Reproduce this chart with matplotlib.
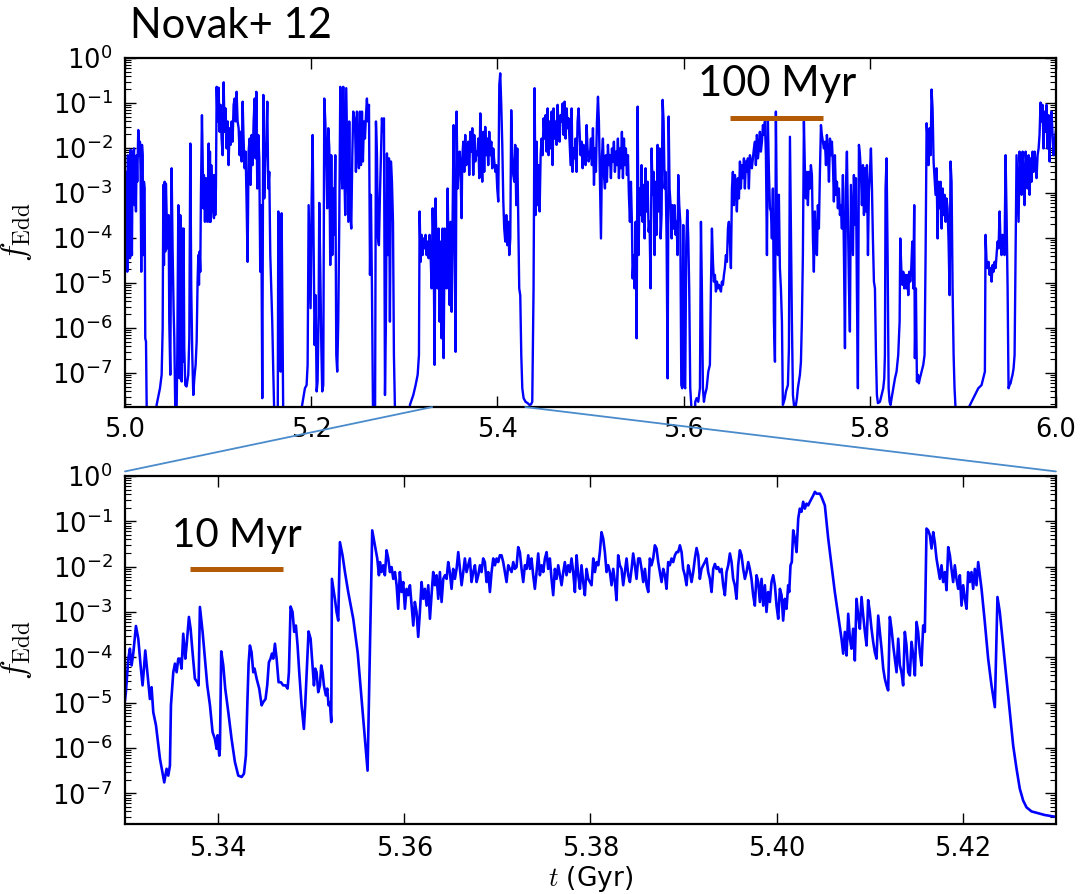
import numpy as np
import matplotlib
matplotlib.use("Agg")
import matplotlib.pyplot as plt
from matplotlib.patches import ConnectionPatch
from matplotlib.ticker import LogLocator, NullFormatter, NullLocator, FormatStrFormatter, FixedLocator

# Eddington ratio history of the central black hole.
# Times are in Myr after t = 5 Gyr, values are log10(f_Edd).
# Values far below the plotted range (quiescent phases) are stored as -9.

# ---- wide window, 5.0 - 6.0 Gyr
wide_t_myr = [
    1.1, 1.8, 2.5, 3.2, 3.9, 4.7, 5.4, 6.1, 6.8, 7.5,
    8.2, 9.0, 9.7, 10.4, 11.1, 11.8, 12.5, 13.2, 14.3, 15.4,
    16.1, 16.8, 17.5, 18.3, 19.0, 19.7, 20.4, 21.1, 21.8, 22.6,
    23.3, 24.7, 30.4, 32.2, 34.0, 37.6, 39.4, 40.5, 41.2, 41.9,
    42.6, 43.3, 44.0, 44.8, 45.8, 46.9, 47.6, 48.7, 49.4, 50.1,
    51.2, 52.3, 53.0, 53.7, 54.8, 55.5, 56.2, 57.3, 58.0, 58.7,
    59.4, 60.1, 60.9, 61.6, 62.3, 63.0, 63.7, 64.8, 66.2, 68.0,
    69.1, 70.2, 71.2, 72.3, 73.4, 74.5, 75.9, 77.0, 78.0, 78.8,
    79.5, 80.2, 80.9, 81.6, 82.7, 83.4, 84.1, 84.8, 85.9, 87.0,
    87.7, 88.4, 89.1, 89.9, 90.6, 91.3, 92.0, 92.7, 93.4, 94.2,
    94.9, 95.6, 96.3, 97.0, 97.7, 98.5, 99.5, 100.6, 101.7, 102.7,
    103.8, 104.9, 106.0, 107.0, 108.1, 109.2, 110.3, 111.3, 112.4, 113.5,
    114.6, 115.6, 116.7, 117.8, 118.9, 119.9, 121.0, 122.1, 123.2, 124.2,
    125.3, 126.4, 127.4, 128.5, 129.6, 130.7, 131.7, 132.8, 133.9, 135.0,
    136.0, 137.1, 138.2, 139.3, 140.3, 141.1, 142.1, 143.2, 144.3, 145.3,
    146.4, 147.5, 148.6, 149.6, 150.7, 151.8, 152.9, 153.9, 155.0, 156.1,
    157.2, 158.2, 159.3, 160.4, 161.5, 162.9, 164.0, 164.7, 165.8, 167.2,
    168.3, 169.3, 170.4, 186.2, 189.7, 193.3, 195.1, 196.2, 197.3, 198.3,
    199.4, 200.5, 201.6, 202.6, 203.7, 204.8, 205.9, 206.9, 208.0, 208.7,
    209.8, 210.9, 211.9, 213.0, 214.1, 215.2, 216.2, 217.3, 218.4, 219.5,
    220.5, 221.6, 222.7, 223.8, 224.8, 225.9, 227.0, 228.0, 229.1, 230.2,
    231.3, 232.3, 233.4, 234.5, 235.6, 236.6, 237.7, 238.8, 239.9, 240.9,
    242.0, 243.1, 244.2, 245.2,
    247.1, 248.1, 249.2, 250.3, 251.3, 252.4, 253.5, 254.6, 255.6, 256.7,
    257.8, 258.9, 259.9, 261.0, 262.1, 263.2, 264.2, 265.3, 266.4, 267.5,
    268.5, 269.6, 270.7, 271.8, 272.8, 273.9, 275.0, 276.0, 277.1, 278.2,
    279.3, 280.3, 281.4, 282.5, 283.6, 284.6, 285.7, 286.8, 287.9, 288.9,
    290.0, 291.4, 303.6, 306.1, 309.7, 312.2, 314.4, 315.8, 316.5, 317.6,
    318.7, 319.7, 320.8, 321.9, 322.9, 324.0, 325.1, 326.2, 327.2, 328.3,
    329.4, 330.5, 331.5, 332.6, 333.7, 334.8, 335.8, 336.9, 338.0, 339.1,
    340.1, 341.2, 342.3, 343.4, 344.4, 345.5, 346.6, 347.6, 348.7, 349.8,
    350.9, 351.9, 353.0, 354.1, 355.2, 356.2, 357.3, 358.4, 359.5, 360.5,
    361.6, 362.3, 363.4, 364.5, 365.5, 366.6, 367.7, 368.8, 369.8, 370.9,
    372.0, 373.1, 374.1, 375.2, 376.3, 377.4, 378.4, 379.5, 380.6, 381.7,
    382.7, 383.8, 384.9, 385.9, 387.0, 388.1, 389.2, 390.2, 391.3, 392.4,
    393.5, 394.5, 395.6, 396.7, 397.8, 398.8, 399.9, 401.0, 402.1, 403.1,
    404.2, 405.3, 406.4, 407.4, 408.5, 409.6, 410.7, 411.7, 412.8, 413.9,
    414.9, 416.0, 417.1, 418.2, 419.2, 420.3, 421.4, 422.5, 423.5, 424.6,
    425.7, 426.8, 428.2, 430.3, 432.5, 434.6, 436.1, 437.5, 438.9, 440.0,
    441.1, 442.2, 443.2, 444.3, 445.4, 446.5, 447.5, 448.6, 449.7, 450.8,
    451.8, 452.9, 454.0, 455.0, 456.1, 457.2, 458.3, 459.3, 460.4, 461.5,
    462.6, 463.6, 464.7, 465.8, 466.9, 467.9, 469.0, 470.1, 471.2, 472.2,
    473.3, 474.4, 475.5, 476.5, 477.6, 478.7, 479.8, 480.8, 481.9, 483.0,
    484.0, 485.1, 486.2, 487.3, 488.3, 489.4, 490.5, 491.6, 492.6, 493.7,
    494.8, 495.9, 496.9, 498.0,
    499.5, 500.5, 501.6, 502.7, 503.8, 504.8, 505.9, 507.0, 508.1, 509.1,
    510.2, 511.3, 512.4, 513.4, 514.5, 515.6, 516.6, 517.7, 518.8, 519.9,
    520.9, 522.0, 523.1, 524.2, 525.2, 526.3, 527.4, 528.5, 529.5, 530.6,
    531.7, 532.7, 533.8, 534.9, 536.0, 537.0, 538.1, 539.2, 540.3, 541.3,
    542.4, 543.5, 544.6, 545.3, 546.4, 547.4, 548.5, 549.6, 550.7, 551.7,
    552.8, 553.9, 554.9, 556.0, 557.1, 558.2, 559.2, 560.3, 561.4, 562.5,
    563.5, 564.6, 565.7, 566.8, 567.8, 568.9, 570.0, 571.1, 572.1, 573.2,
    574.3, 575.4, 576.4, 577.5, 578.6, 579.7, 580.7, 581.8, 582.9, 584.0,
    585.0, 586.1, 587.2, 588.2, 589.3, 590.4, 591.5, 592.5, 593.6, 594.3,
    595.4, 596.5, 597.6, 598.6, 599.7, 600.8, 601.8, 602.9, 604.0, 605.1,
    606.1, 607.2, 608.3, 609.4, 611.5, 612.6, 614.0, 615.8, 617.6, 618.7,
    619.7, 620.8, 621.9, 623.0, 624.8, 626.6, 628.3, 629.4, 630.5, 631.6,
    632.6, 633.7, 634.8, 635.9, 636.9, 638.0, 639.1, 640.2, 641.2, 642.3,
    643.4, 644.4, 645.5, 646.6, 647.7, 648.7, 649.8, 650.9, 652.0, 653.0,
    654.1, 655.2, 656.3, 657.3, 658.4, 659.5, 660.6, 661.6, 662.7, 663.8,
    664.9, 665.9, 667.0, 668.1, 669.1, 670.2, 671.3, 672.4, 673.4, 674.5,
    675.6, 676.7, 677.7, 678.8, 679.9, 681.0, 682.0, 683.1, 684.2, 685.3,
    686.3, 687.4, 688.5, 689.6, 690.6, 691.7, 692.8, 693.9, 694.9, 696.0,
    697.1, 698.2, 699.2, 700.3, 701.4, 702.4, 703.5, 704.6, 705.7, 706.7,
    707.8, 708.9, 710.0, 711.0, 712.1, 713.2, 714.3, 715.3, 716.4, 717.5,
    718.6, 719.6, 720.7, 721.8, 722.8, 723.9, 725.0, 726.1, 727.1, 728.2,
    729.3, 730.4, 731.4, 732.5, 733.6, 734.7, 735.7, 736.8, 737.9, 739.0,
    740.0, 741.1, 742.2, 743.3, 744.3, 745.4, 746.5, 747.6, 748.6, 749.7, 750.8,
    751.9, 753.0, 754.0, 755.1, 756.2, 757.3, 758.3, 759.4, 760.5, 761.5,
    762.6, 763.7, 764.8, 765.8, 766.9, 768.0, 769.1, 770.1, 771.2, 772.3,
    773.4, 774.4, 775.5, 776.6, 777.7, 778.7, 779.8, 780.9, 782.0, 783.0,
    784.1, 785.2, 786.2, 787.3, 788.4, 789.5, 790.5, 791.6, 792.7, 793.8,
    794.8, 795.9, 797.0, 798.1, 799.1, 800.2, 801.3, 802.4, 803.4, 804.5,
    805.6, 806.7, 807.7, 808.8, 811.0, 812.7, 814.5, 815.6, 816.3, 817.0,
    818.1, 819.2, 820.3, 821.3, 822.4, 823.5, 825.3, 827.1, 828.8, 830.6,
    832.1, 832.8, 833.9, 835.0, 836.0, 837.1, 838.2, 839.2, 840.3, 841.4,
    842.5, 843.5, 844.6, 845.7, 846.8, 847.8, 848.5, 849.6, 850.7, 851.8,
    852.8, 853.9, 855.7, 857.5, 858.9, 860.0, 861.1, 862.1, 863.2, 864.3,
    865.4, 866.4, 867.5, 868.6, 869.7, 870.7, 871.8, 872.9, 874.0, 875.0,
    876.1, 877.2, 878.3, 879.3, 880.4, 881.5, 882.5, 883.6, 884.7, 885.8,
    886.8, 887.9, 889.0, 890.1, 891.1, 892.2, 893.6, 904.0, 905.8, 909.4,
    913.0, 916.6, 920.1, 921.9, 923.7, 924.4, 925.5, 926.6, 927.7, 928.7,
    929.8, 930.9, 932.0, 933.0, 934.1, 935.2, 936.2, 937.3, 938.4, 939.5,
    940.5, 941.6, 942.7, 943.8, 944.8, 945.9, 947.0, 948.1, 949.1, 950.2,
    951.3, 952.4, 953.4, 954.5, 955.6, 956.6, 957.7, 958.8, 959.9, 960.9,
    962.0, 963.1, 964.2, 965.2, 966.3, 967.4, 968.5, 969.5, 970.6, 971.7,
    972.8, 973.8, 974.9, 976.0, 977.1, 978.1, 979.2, 980.3, 981.4, 982.4,
    983.5, 984.6, 985.6, 986.7, 987.8, 988.9, 989.9, 991.0, 992.1, 993.2,
    994.2, 995.3, 996.4, 997.5, 998.9, 1000.0,
]
wide_log_fedd = [
    -4.38, -2.53, -4.75, -2.16, -4.01, -3.04, -4.45, -2.04, -3.64, -4.38,
    -2.08, -2.53, -2.01, -3.27, -2.38, -3.41, -2.16, -2.75, -1.60, -2.16,
    -1.86, -2.53, -4.75, -1.93, -2.16, -4.38, -2.75, -2.90, -6.23, -6.30,
    -7.71, -9.0, -9.0, -8.3, -7.71, -7.34, -7.04, -6.01, -2.82, -4.60,
    -2.75, -4.30, -2.79, -3.49, -4.23, -3.49, -5.86, -7.04, -4.38, -2.45,
    -4.30, -5.64, -6.23, -7.34, -9.0, -7.71, -6.60, -3.27, -4.38, -7.12,
    -3.49, -3.86, -7.19, -3.79, -6.75, -3.79, -6.45, -7.27, -7.30, -7.04,
    -6.23, -1.90, -5.12, -6.60, -7.49, -7.12, -6.82, -6.30, -4.97, -4.38,
    -5.04, -4.30, -4.75, -3.04, -1.27, -2.16, -3.34, -2.60, -3.64, -2.67,
    -3.49, -3.64, -2.90, -1.90, -3.64, -2.08, -3.64, -2.38, -3.19, -2.60,
    -3.41, -3.56, -2.60, -3.49, -2.90, -0.64, -1.41, -0.66, -1.64, -1.04,
    -1.79, -2.16, -0.54, -1.64, -1.12, -2.01, -1.41, -2.38, -1.56, -1.93,
    -1.41, -1.86, -1.04, -0.90, -1.41, -0.75, -1.41, -1.56, -2.16, -1.64,
    -2.30, -0.97, -1.79, -2.45, -2.08, -3.27, -4.53, -2.08, -1.79, -2.82,
    -1.71, -2.38, -1.41, -0.90, -2.23, -0.75, -2.90, -1.71, -2.23, -4.75,
    -3.27, -7.56, -0.82, -3.12, -2.30, -1.86, -0.97, -2.90, -2.53, -4.38,
    -5.12, -5.86, -6.97, -7.93, -9.0, -9.0, -9.0, -3.41, -5.12, -6.97,
    -3.45, -6.23, -9.0, -9.0, -7.79, -7.34, -7.27, -6.82, -3.27, -4.38,
    -5.56, -3.19, -1.71, -4.08, -6.38, -5.27, -7.41, -7.19, -5.71, -3.22,
    -4.67, -6.38, -7.41, -7.27, -0.90, -1.41, -2.16, -3.34, -1.56, -2.01,
    -4.60, -2.16, -4.38, -2.90, -3.93, -2.16, -6.60, -6.97, -5.86, -3.64,
    -0.64, -2.16, -2.90, -0.64, -2.53, -3.49, -0.67, -2.16, -3.64, -1.41,
    -3.49, -3.79, -2.16, -1.19,
    -1.41, -2.53, -1.19, -2.01, -2.45, -1.19, -2.38, -1.19, -2.30, -1.41,
    -1.79, -1.27, -0.90, -1.41, -1.04, -4.82, -3.04, -5.12, -7.79, -9.0,
    -9.0, -1.41, -2.16, -4.01, -4.16, -3.04, -2.16, -1.34, -1.64, -1.34,
    -7.49, -5.86, -2.12, -4.38, -2.23, -5.86, -2.30, -2.75, -3.64, -6.60,
    -7.79, -9.0, -9.0, -7.71, -7.49, -7.27, -7.04, -6.60, -3.41, -4.53,
    -3.93, -4.38, -4.01, -4.23, -3.93, -4.38, -4.08, -4.45, -3.93, -4.38,
    -5.12, -3.34, -4.08, -6.82, -3.12, -4.67, -5.12, -3.79, -5.86, -4.08,
    -6.23, -3.79, -6.67, -3.79, -4.38, -5.12, -2.90, -4.38, -5.49, -3.64,
    -5.64, -3.64, -1.49, -4.23, -6.53, -1.19, -2.90, -2.38, -2.08, -2.60,
    -3.56, -2.23, -1.86, -2.53, -1.71, -2.38, -2.01, -1.86, -2.60, -1.64,
    -2.08, -1.56, -2.60, -1.71, -2.30, -2.08, -2.16, -1.79, -2.67, -1.23,
    -2.16, -2.75, -1.64, -2.53, -1.53, -2.16, -1.79, -2.38, -1.64, -2.16,
    -1.86, -2.45, -2.01, -2.30, -2.53, -2.38, -2.90, -3.19, -0.60, -0.34,
    -1.04, -1.93, -3.19, -3.79, -4.08, -3.49, -4.16, -3.64, -4.38, -4.01,
    -1.16, -2.16, -2.60, -2.75, -1.93, -3.27, -2.01, -3.64, -5.12, -5.27,
    -6.60, -7.34, -7.56, -7.64, -7.67, -7.71, -7.70, -7.64, -5.12, -0.67,
    -3.49, -1.86, -3.27, -2.38, -3.41, -2.16, -1.79, -2.16, -1.34, -1.79,
    -1.27, -2.08, -1.12, -2.16, -1.41, -2.01, -1.19, -2.38, -1.12, -1.79,
    -1.41, -1.93, -1.04, -1.56, -1.86, -1.27, -1.41, -1.01, -1.71, -0.97,
    -1.79, -1.12, -1.56, -1.34, -1.86, -2.38, -1.12, -2.53, -2.01, -2.23,
    -1.79, -2.53, -1.41, -1.12, -1.64, -2.16, -1.86, -2.45, -1.93, -2.08,
    -2.38, -1.49, -2.01, -2.30,
    -2.16, -1.79, -2.38, -1.56, -2.82, -2.01, -2.53, -1.41, -0.86, -1.41,
    -2.75, -4.01, -2.16, -1.79, -2.60, -2.90, -2.16, -2.75, -1.93, -2.38,
    -2.16, -2.67, -2.01, -2.30, -1.86, -2.53, -2.08, -2.38, -1.79, -2.67,
    -2.01, -2.45, -1.64, -2.67, -1.79, -2.38, -2.01, -2.60, -2.16, -3.04,
    -3.64, -2.75, -3.71, -4.90, -4.38, -5.12, -3.64, -6.23, -1.08, -4.38,
    -2.90, -3.49, -2.38, -3.64, -2.82, -4.01, -2.45, -3.41, -2.75, -3.86,
    -3.64, -5.12, -2.01, -3.04, -2.53, -4.38, -2.75, -3.93, -1.93, -3.41,
    -2.01, -4.01, -3.49, -0.93, -1.41, -2.90, -2.53, -4.01, -7.12, -1.30,
    -2.90, -3.27, -4.01, -3.27, -3.79, -3.27, -3.93, -3.64, -4.38, -2.60,
    -3.27, -3.64, -7.27, -7.34, -3.71, -7.27, -7.34, -4.16, -3.38, -4.01,
    -5.12, -7.34, -7.71, -9.0, -9.0, -7.64, -7.56, -7.64, -7.34, -3.64,
    -5.12, -7.34, -7.64, -7.49, -7.34, -6.97, -6.82, -5.12, -3.79, -4.53,
    -4.97, -4.82, -5.19, -4.97, -5.12, -5.04, -5.12, -5.19, -4.97, -5.04,
    -4.82, -4.67, -4.38, -4.53, -3.79, -3.64, -4.08, -4.67, -2.90, -2.53,
    -3.27, -2.60, -2.90, -3.41, -2.67, -3.12, -2.30, -2.90, -2.38, -2.67,
    -2.23, -2.90, -2.30, -2.53, -2.23, -2.90, -2.16, -2.30, -2.45, -2.23,
    -2.01, -1.86, -2.38, -1.71, -2.23, -2.01, -1.64, -2.08, -1.86, -1.49,
    -1.71, -1.41, -2.16, -4.38, -1.38, -2.53, -3.34, -3.41, -4.01, -2.90,
    -5.86, -6.75, -1.19, -3.64, -4.38, -3.04, -4.67, -5.12, -5.86, -7.71,
    -7.64, -7.56, -7.41, -7.34, -7.27, -6.45, -1.75, -3.64, -5.86, -7.49,
    -7.71, -9.0, -7.71, -7.56, -7.34, -7.19, -7.04, -6.75, -5.86, -4.38,
    -1.41, -2.53, -3.12, -2.53, -3.27, -2.53, -2.90, -2.38, -2.60, -4.01,
    -4.75, -3.41, -4.16, -4.38, -3.27, -3.79, -2.53, -1.49, -1.71, -1.86, -2.01,
    -1.86, -2.38, -1.71, -2.08, -2.75, -1.79, -2.16, -1.86, -2.38, -3.19,
    -2.16, -3.04, -2.75, -3.34, -2.90, -3.49, -3.27, -3.79, -2.60, -4.38,
    -6.45, -2.90, -2.08, -3.64, -5.12, -6.08, -2.82, -3.64, -4.38, -2.60,
    -3.71, -2.67, -5.12, -7.34, -1.93, -2.16, -2.53, -3.27, -2.38, -3.49,
    -2.45, -3.41, -2.38, -4.38, -2.97, -2.53, -2.01, -2.90, -4.01, -4.97,
    -5.12, -6.60, -7.49, -7.67, -7.64, -7.49, -7.34, -7.12, -6.60, -2.90,
    -2.23, -4.38, -7.34, -7.64, -7.71, -7.56, -7.34, -7.12, -6.97, -6.60,
    -5.86, -4.01, -4.67, -5.04, -4.75, -5.12, -4.82, -5.12, -4.82, -5.27,
    -4.75, -4.97, -4.67, -4.08, -5.12, -3.27, -6.67, -5.12, -7.19, -7.04,
    -7.23, -7.12, -6.97, -6.82, -6.60, -4.38, -1.45, -1.79, -2.38, -1.56,
    -2.16, -0.70, -1.12, -2.30, -2.67, -3.04, -2.45, -4.01, -2.75, -3.34,
    -2.75, -3.79, -2.90, -3.49, -3.04, -3.64, -3.12, -3.34, -4.08, -5.27,
    -2.30, -2.75, -5.12, -6.60, -7.34, -7.79, -9.0, -9.0, -7.79, -7.64,
    -7.49, -7.34, -7.27, -7.12, -6.97, -3.93, -4.53, -4.67, -4.53, -4.82,
    -4.67, -4.97, -4.60, -4.75, -4.53, -4.67, -4.38, -4.08, -4.23, -3.41,
    -4.08, -4.38, -3.93, -4.16, -4.38, -2.16, -3.49, -5.12, -7.34, -7.27,
    -7.23, -7.12, -7.04, -6.90, -6.60, -4.38, -2.16, -2.90, -3.64, -2.08,
    -2.53, -3.04, -2.08, -2.75, -3.27, -2.08, -2.38, -2.90, -2.16, -3.04,
    -2.23, -2.75, -2.08, -2.53, -2.08, -2.38, -2.67, -2.16, -2.01, -1.71,
    -0.99, -1.41, -1.04, -2.01, -1.19, -1.64, -1.04, -2.01, -1.27, -2.30,
    -1.41, -1.19, -1.71, -2.16, -1.79, -1.60,
]

# ---- zoomed window, 5.33 - 5.43 Gyr
zoom_t_myr = [
    330.00, 330.10, 330.36, 330.53, 330.71, 330.89, 331.18, 331.43, 331.68, 331.89,
    332.04, 332.18, 332.40, 332.68, 332.86, 333.04, 333.33, 333.76, 334.22, 334.47,
    334.65, 334.83, 334.94, 335.19, 335.37, 335.55, 335.73, 335.90, 336.08, 336.26,
    336.48, 336.62, 336.87, 337.05, 337.26, 337.51, 337.77, 337.91, 338.05, 338.34,
    338.59, 338.84, 339.13, 339.41, 339.66, 339.84, 339.95, 340.13, 340.20, 340.34,
    340.56, 340.77, 341.10, 341.45, 341.81, 342.17, 342.53, 342.78, 342.99, 343.14,
    343.28, 343.42, 343.60, 343.78, 343.92, 344.14, 344.42, 344.68, 344.85, 345.10,
    345.28, 345.46, 345.64, 345.78, 345.93, 346.11, 346.29, 346.50, 346.75, 347.00,
    347.25, 347.47, 347.61, 347.79, 348.00, 348.18, 348.36, 348.54, 348.72, 348.97,
    349.22, 349.36, 349.58, 349.72, 349.94, 350.15, 350.30, 350.44, 350.58, 350.76,
    350.94, 351.08, 351.23, 351.37, 351.58, 351.73, 351.87, 352.01, 352.16, 352.23,
    352.55, 352.73, 352.91, 353.09, 353.37, 353.63, 353.98, 354.52, 355.00, 356.06,
    356.56, 356.85, 357.10, 357.28, 357.39, 357.56, 357.74, 357.92, 358.10, 358.28,
    358.46, 358.64, 358.82, 359.00, 359.18, 359.35, 359.53, 359.71, 359.89, 360.07,
    360.25, 360.43, 360.61, 360.79, 360.97, 361.14, 361.32, 361.50, 361.68, 361.86,
    362.04, 362.22, 362.40, 362.58, 362.76, 362.93, 363.11, 363.29, 363.47, 363.65,
    363.83, 364.01, 364.19, 364.37, 364.55, 364.72, 364.90, 365.08, 365.26, 365.44,
    365.62, 365.80, 365.98, 366.16, 366.34, 366.51, 366.69, 366.87, 367.05, 367.23,
    367.41, 367.59, 367.77, 367.95, 368.13, 368.30, 368.48, 368.66, 368.84, 369.02,
    369.20, 369.38, 369.56, 369.74, 369.92, 370.09, 370.27, 370.45, 370.63, 370.81,
    370.99, 371.17, 371.35, 371.53, 371.71, 371.88, 372.06, 372.24, 372.42, 372.60,
    372.78, 372.96, 373.14, 373.32, 373.50, 373.67, 373.85, 374.03, 374.21, 374.39,
    374.57, 374.75, 374.93, 375.11, 375.29, 375.46, 375.64, 375.82, 376.00, 376.18,
    376.36, 376.54, 376.72, 376.90, 377.08, 377.25, 377.43, 377.61, 377.79, 377.97,
    378.15, 378.33, 378.51, 378.69, 378.87, 379.04, 379.22, 379.40, 379.58, 379.76,
    380.12, 380.30, 380.48, 380.66, 380.84, 381.01, 381.19, 381.37, 381.55, 381.73,
    381.91, 382.09, 382.27, 382.45, 382.63, 382.80, 382.98, 383.16, 383.34, 383.52,
    383.70, 383.88, 384.06, 384.24, 384.42, 384.59, 384.77, 384.95, 385.13, 385.31,
    385.49, 385.67, 385.85, 386.03, 386.21, 386.38, 386.56, 386.74, 386.92, 387.10,
    387.28, 387.46, 387.64, 387.82, 388.00, 388.17, 388.35, 388.53, 388.71, 388.89,
    389.07, 389.25, 389.43, 389.61, 389.79, 389.96, 390.14, 390.32, 390.50, 390.68,
    390.86, 391.04, 391.22, 391.40, 391.58, 391.75, 391.93, 392.11, 392.29, 392.47,
    392.65, 392.83, 393.01, 393.19, 393.37, 393.54, 393.72, 393.90, 394.08, 394.26,
    394.44, 394.62, 394.80, 394.98, 395.16, 395.33, 395.51, 395.69, 395.87, 396.05,
    396.23, 396.41, 396.59, 396.77, 396.95, 397.12, 397.30, 397.48, 397.66, 397.84,
    398.02, 398.20, 398.38, 398.56, 398.74, 398.91, 399.09, 399.27, 399.45, 399.63,
    399.81, 399.99, 400.17, 400.35, 400.53, 400.70, 400.88, 401.06, 401.24, 401.35,
    401.49, 401.63, 401.78, 401.96, 402.14, 402.32, 402.49, 402.67, 402.85, 403.03,
    403.21, 403.39, 403.57, 403.75, 403.93, 404.11, 404.28, 404.46, 404.64, 404.82,
    405.18, 405.54, 405.90, 406.25, 406.61, 406.97, 407.15, 407.33, 407.51, 407.69,
    407.87, 408.04, 408.22, 408.40, 408.58, 408.76, 408.94, 409.12, 409.30, 409.48,
    409.66, 409.83, 410.01, 410.19, 410.37, 410.55, 410.73, 410.91, 411.09, 411.27,
    411.45, 411.62, 411.80, 411.98, 412.16, 412.34, 412.52, 412.70, 412.88, 413.06,
    413.24, 413.41, 413.59, 413.77, 413.95, 414.13, 414.31, 414.49, 414.67, 414.85,
    415.03, 415.20, 415.38, 415.56, 415.74, 415.92, 416.10, 416.28, 416.46, 416.64,
    416.82, 416.99, 417.17, 417.35, 417.53, 417.71, 417.89, 418.07, 418.25, 418.43,
    418.61, 418.78, 418.96, 419.14, 419.32, 419.50, 419.68, 419.86, 420.04, 420.22,
    420.40, 420.57, 420.75, 420.93, 421.11, 421.29, 421.47, 421.65, 421.83, 422.01,
    422.36, 422.72, 423.08, 423.44, 423.72, 423.97, 424.33, 424.69, 425.05, 425.41,
    425.77, 426.12, 426.48, 426.84, 427.38, 428.09, 428.81, 429.70, 430.00,
]
zoom_log_fedd = [
    -4.95, -4.77, -4.03, -3.81, -4.18, -3.92, -3.31, -3.59, -4.18, -4.62,
    -4.25, -3.85, -4.33, -4.92, -4.66, -5.21, -5.50, -6.24, -6.76, -6.46,
    -6.61, -6.39, -5.06, -4.33, -4.14, -4.33, -4.03, -4.03, -4.25, -3.48,
    -4.03, -3.74, -3.11, -3.37, -3.89, -4.47, -4.55, -4.62, -2.89, -3.44,
    -4.03, -4.62, -5.06, -5.65, -5.80, -6.02, -5.72, -6.17, -6.02, -3.87,
    -4.18, -4.69, -5.21, -5.80, -6.31, -6.61, -6.64, -6.57, -6.17, -5.06,
    -4.14, -3.74, -3.89, -4.33, -4.25, -4.47, -4.69, -5.06, -4.99, -4.92,
    -4.62, -4.11, -4.03, -3.92, -4.03, -3.70, -4.03, -4.55, -4.55, -4.62,
    -4.62, -4.69, -4.33, -2.88, -3.00, -3.44, -3.30, -3.74, -4.33, -5.06,
    -5.58, -5.06, -4.03, -3.43, -3.59, -4.18, -4.62, -4.25, -4.33, -4.77,
    -4.62, -4.18, -4.33, -4.62, -4.84, -4.69, -5.06, -4.99, -5.43, -2.27,
    -2.71, -3.00, -3.19, -1.46, -1.75, -2.12, -2.56, -3.15, -3.90, -6.50,
    -1.20, -1.53, -1.82, -2.19, -1.90, -2.12, -1.97, -2.19, -1.64, -1.82,
    -2.12, -2.01, -2.27, -2.12, -2.41, -2.93, -2.12, -2.56, -2.34, -2.93,
    -2.49, -2.63, -2.41, -2.86, -3.30, -2.78, -3.00, -3.55, -3.00, -2.34,
    -2.71, -2.49, -2.86, -2.41, -3.15, -2.63, -2.12, -2.41, -2.19, -2.71,
    -2.12, -2.78, -2.27, -2.19, -2.27, -1.90, -2.12, -2.49, -2.05, -2.27,
    -2.05, -1.68, -2.05, -2.41, -2.12, -1.82, -2.12, -1.97, -1.82, -2.34,
    -2.12, -1.97, -2.34, -2.19, -1.97, -2.12, -1.82, -1.90, -2.34, -2.12,
    -2.56, -2.12, -1.82, -1.97, -1.82, -1.90, -1.75, -1.75, -1.90, -2.12,
    -2.34, -1.97, -2.05, -2.12, -1.90, -2.05, -2.01, -1.57, -1.68, -2.05,
    -2.34, -1.97, -2.05, -1.75, -2.05, -1.82, -2.19, -2.49, -2.12, -1.71,
    -2.19, -1.97, -2.12, -1.82, -1.68, -2.05, -1.82, -2.27, -2.63, -2.05,
    -2.27, -1.97, -2.19, -2.41, -2.12, -1.90, -2.19, -1.97, -2.12, -1.82,
    -2.12, -2.56, -1.75, -2.19, -2.49, -1.97, -2.34, -2.63, -2.05, -2.27,
    -2.41, -1.82, -2.12, -1.90, -1.97, -1.68, -1.24, -1.38, -1.68, -2.12,
    -1.97, -2.12, -2.41, -2.05, -2.34, -2.74, -1.75, -1.97, -2.05, -2.41,
    -2.12, -1.82, -2.19, -2.34, -2.05, -1.71, -1.97, -2.27, -1.82, -1.82,
    -2.05, -2.34, -2.05, -2.41, -2.56, -1.82, -1.97, -1.82, -1.53, -1.60,
    -1.90, -2.12, -2.34, -2.05, -2.19, -2.49, -1.90, -1.97, -1.82, -1.90,
    -1.75, -1.68, -1.68, -1.53, -1.68, -2.05, -2.19, -2.41, -1.97, -2.12,
    -2.34, -2.12, -1.82, -1.59, -1.75, -2.27, -2.05, -1.97, -1.90, -1.82,
    -2.12, -2.27, -2.56, -2.05, -1.94, -2.05, -2.01, -2.12, -2.05, -2.41,
    -2.63, -2.12, -1.97, -1.71, -1.90, -2.27, -2.41, -2.71, -1.97, -1.64,
    -1.75, -2.05, -2.27, -2.12, -1.90, -2.05, -2.27, -2.63, -2.86, -2.19,
    -2.34, -2.78, -2.27, -2.86, -2.41, -3.00, -2.56, -2.78, -2.34, -2.19,
    -2.41, -2.86, -3.15, -2.49, -2.63, -3.19, -2.71, -2.93, -2.41, -2.56,
    -1.97, -1.90, -1.20, -1.38, -1.68, -0.94, -0.72, -0.79, -0.57, -0.72,
    -0.61, -0.65, -0.57, -0.50, -0.43, -0.35, -0.39, -0.39, -0.39, -0.46,
    -0.65, -1.38, -1.97, -2.56, -3.08, -3.59, -3.92, -3.44, -3.96, -3.04,
    -3.59, -3.81, -3.37, -4.07, -2.71, -3.08, -3.37, -2.67, -3.08, -3.44,
    -3.74, -2.74, -3.00, -3.37, -3.66, -3.89, -4.03, -3.08, -3.44, -3.81,
    -4.25, -4.47, -4.62, -4.73, -3.11, -3.37, -3.74, -4.03, -4.33, -3.59,
    -4.18, -4.33, -4.62, -3.44, -3.74, -4.33, -4.40, -3.66, -3.96, -4.40,
    -3.22, -3.44, -3.89, -4.18, -3.30, -3.44, -1.16, -1.20, -1.31, -1.60,
    -1.24, -1.46, -1.82, -2.05, -2.27, -1.97, -2.34, -2.12, -2.52, -1.57,
    -1.75, -2.05, -2.34, -1.97, -2.27, -2.49, -2.19, -2.86, -2.41, -2.71,
    -2.93, -2.12, -2.34, -2.12, -2.49, -2.05, -2.41, -1.90, -2.19, -2.49,
    -3.22, -4.03, -4.62, -5.10, -2.67, -3.00, -3.74, -4.47, -5.21, -5.95,
    -6.46, -6.90, -7.16, -7.31, -7.40, -7.44, -7.48, -7.51, -7.52,
]

assert len(wide_t_myr) == len(wide_log_fedd)
assert len(zoom_t_myr) == len(zoom_log_fedd)

# axis ranges and ticks
wide_xlim = (5.0, 6.0)
zoom_xlim = (5.33, 5.43)
wide_ylim = (1.75e-8, 1.0)
zoom_ylim = (2.1e-8, 1.0)
wide_xticks = [5.0, 5.2, 5.4, 5.6, 5.8, 6.0]
zoom_xticks = [5.34, 5.36, 5.38, 5.40, 5.42]
decade_ticks = [1e-7, 1e-6, 1e-5, 1e-4, 1e-3, 1e-2, 1e-1, 1e0]

# scale bars: (start, end) in Gyr, height in log10(f_Edd), label
wide_bar = (5.65, 5.75, -1.34, "100 Myr")
zoom_bar = (5.337, 5.347, -2.05, "10 Myr")

LINE_BLUE = "#0000ff"
BAR_ORANGE = "#b35a07"
LINK_BLUE = "#4a8bcb"
NOTE_FONT = ["Lato", "DejaVu Sans"]

plt.rcParams["font.family"] = "DejaVu Sans"
plt.rcParams["mathtext.fontset"] = "cm"

fig = plt.figure(figsize=(10.81, 8.94), dpi=100)
ax_wide = fig.add_axes([0.1156, 0.5447, 0.8612, 0.3904])
ax_zoom = fig.add_axes([0.1156, 0.0783, 0.8612, 0.3893])


def style_axes(ax, xlim, ylim, xticks, xfmt):
    ax.set_yscale("log")
    ax.set_xlim(*xlim)
    ax.set_ylim(*ylim)
    ax.xaxis.set_major_locator(FixedLocator(xticks))
    ax.xaxis.set_major_formatter(FormatStrFormatter(xfmt))
    ax.xaxis.set_minor_locator(NullLocator())
    ax.yaxis.set_major_locator(FixedLocator(decade_ticks))
    ax.yaxis.set_minor_locator(LogLocator(base=10, subs=np.arange(2, 10), numticks=30))
    ax.yaxis.set_minor_formatter(NullFormatter())
    ax.tick_params(which="both", direction="in", top=True, right=True)
    ax.tick_params(which="major", length=8, width=1.0, labelsize=18.5, pad=7)
    ax.tick_params(axis="y", which="major", pad=9)
    ax.tick_params(which="minor", length=4.5, width=0.8)
    for spine in ax.spines.values():
        spine.set_linewidth(1.6)
    ax.set_ylabel(r"$f_{\rm Edd}$", fontsize=24)
    ax.yaxis.set_label_coords(-0.098, 0.5)


def draw_scale_bar(ax, bar, fontsize):
    x0, x1, logy, label = bar
    y = 10 ** logy
    ax.plot([x0, x1], [y, y], color=BAR_ORANGE, lw=3.6, solid_capstyle="butt")
    ax.annotate(label, xy=((x0 + x1) / 2, y), xytext=(0, 11), textcoords="offset points",
                ha="center", va="bottom", fontsize=fontsize, family=NOTE_FONT)


# wide window
t_wide = 5.0 + np.asarray(wide_t_myr) / 1000.0
ax_wide.plot(t_wide, 10 ** np.asarray(wide_log_fedd), color=LINE_BLUE, lw=1.7)
style_axes(ax_wide, wide_xlim, wide_ylim, wide_xticks, "%.1f")
draw_scale_bar(ax_wide, wide_bar, 30)

# zoomed window
t_zoom = 5.0 + np.asarray(zoom_t_myr) / 1000.0
ax_zoom.plot(t_zoom, 10 ** np.asarray(zoom_log_fedd), color=LINE_BLUE, lw=1.9)
style_axes(ax_zoom, zoom_xlim, zoom_ylim, zoom_xticks, "%.2f")
ax_zoom.tick_params(axis="x", which="major", pad=9)
draw_scale_bar(ax_zoom, zoom_bar, 29)
ax_zoom.set_xlabel(r"$t$ (Gyr)", fontsize=19)
ax_zoom.xaxis.set_label_coords(0.5, -0.115)

# lines linking the zoomed interval to the lower panel
for x_edge, ax_frac in ((zoom_xlim[0], 0.0), (zoom_xlim[1], 1.0)):
    link = ConnectionPatch(xyA=(x_edge, wide_ylim[0]), coordsA=ax_wide.transData,
                           xyB=(ax_frac, 1.013), coordsB=ax_zoom.transAxes,
                           color=LINK_BLUE, lw=1.3)
    fig.add_artist(link)

fig.text(0.1203, 0.9575, "Novak+ 12", fontsize=30, family=NOTE_FONT, va="baseline", ha="left")

fig.savefig("out.png", dpi=100)
